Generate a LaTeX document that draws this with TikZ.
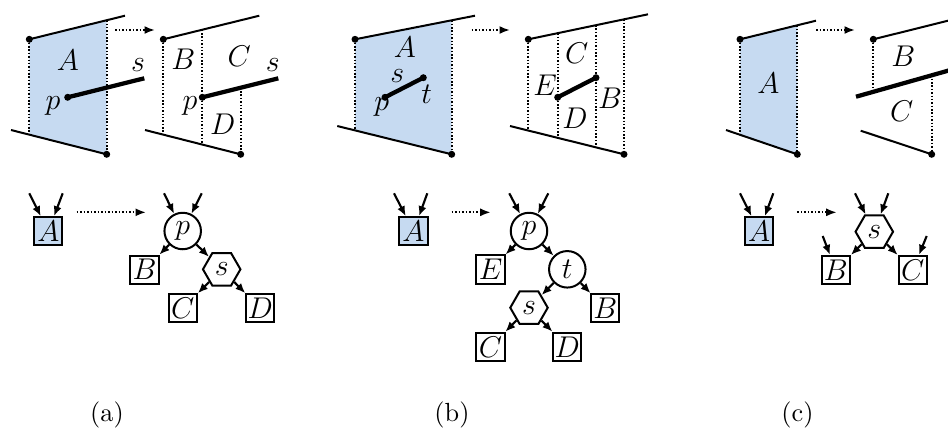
\documentclass[tikz,border=0pt]{standalone}
\usetikzlibrary{arrows.meta,shapes.geometric}
\definecolor{regblue}{RGB}{198,218,241}
\begin{document}
\begin{tikzpicture}[x=0.4pt,y=-0.4pt,
  font=\fontsize{12}{14}\selectfont,
  seg/.style={line width=0.8pt},
  thickseg/.style={line width=1.7pt},
  vdot/.style={line width=0.75pt, dash pattern=on 0.6pt off 0.75pt},
  dotarrow/.style={line width=0.75pt, dash pattern=on 0.6pt off 0.8pt, -{Latex[length=4.2pt,width=3.2pt]}},
  arr/.style={line width=0.85pt, -{Latex[length=4pt,width=3.3pt]}},
  box/.style={draw, line width=0.8pt, minimum size=11.3pt, inner sep=0pt},
  circ/.style={circle, draw, line width=0.8pt, minimum size=14.6pt, inner sep=0pt},
  hex/.style={regular polygon, regular polygon sides=6, draw, line width=0.8pt, minimum size=15pt, inner sep=0pt},
  lbl/.style={inner sep=0pt},
  captxt/.style={inner sep=0pt, font=\fontsize{10.5}{12}\selectfont}
]
\useasboundingbox (0,0) rectangle (948,429);
\clip (0,0) rectangle (948,429);

% ---------------- panel (a), top ----------------
\fill[regblue] (29.3,39.3) -- (106.7,20.2) -- (106.7,154.3) -- (29.3,134.6) -- cycle;
\draw[vdot] (29.3,39.3) -- (29.3,134.6);
\draw[vdot] (106.7,20.2) -- (106.7,154.3);
\draw[seg] (29.3,39.3) -- (125,15.7);
\draw[seg] (11,130) -- (106.7,154.3);
\draw[thickseg] (67.7,97.3) -- (144.3,78.3);
\fill (29.3,39.3) circle (1.4pt) (106.7,154.3) circle (1.4pt) (67.7,97.3) circle (1.4pt);
\node[lbl] (a1A) at (68,60) {$A$};
\node[lbl] (a1p) at (53,106) {$p$};
\node[lbl] (a1s) at (138,65) {$s$};

\coordinate (a1from) at (115,30);
\coordinate (a1to) at (155,30);
\draw[dotarrow] (a1from) -- (a1to);

\draw[vdot] (163.3,39.3) -- (163.3,134.6);
\draw[vdot] (202.3,29.7) -- (202.3,144.6);
\draw[vdot] (240.7,87.7) -- (240.7,154.3);
\draw[seg] (163.3,39.3) -- (259.3,15.7);
\draw[seg] (145,130) -- (240.7,154.3);
\draw[thickseg] (202.3,97.3) -- (278.3,78.3);
\fill (163.3,39.3) circle (1.4pt) (240.7,154.3) circle (1.4pt) (202.3,97.3) circle (1.4pt);
\node[lbl] (a2B) at (183.3,59.3) {$B$};
\node[lbl] (a2C) at (239.3,56.7) {$C$};
\node[lbl] (a2D) at (222.7,124) {$D$};
\node[lbl] (a2p) at (190,106) {$p$};
\node[lbl] (a2s) at (272.7,65) {$s$};

% ---------------- panel (b), top ----------------
\fill[regblue] (355,39.3) -- (451.7,20.3) -- (451.7,154.3) -- (355,130.4) -- cycle;
\draw[vdot] (355,39.3) -- (355,130.4);
\draw[vdot] (451.7,20.3) -- (451.7,154.3);
\draw[seg] (355,39.3) -- (475,15.7);
\draw[seg] (337.3,126) -- (451.7,154.3);
\draw[thickseg] (385,97.3) -- (423.3,77.7);
\fill (355,39.3) circle (1.4pt) (451.7,154.3) circle (1.4pt) (385,97.3) circle (1.4pt) (423.3,77.7) circle (1.4pt);
\node[lbl] (b1A) at (405,47.7) {$A$};
\node[lbl] (b1s) at (397.3,76) {$s$};
\node[lbl] (b1t) at (426.7,94.3) {$t$};
\node[lbl] (b1p) at (381.7,106.7) {$p$};

\coordinate (b1from) at (471.7,30);
\coordinate (b1to) at (510,30);
\draw[dotarrow] (b1from) -- (b1to);

\draw[vdot] (528.3,39.3) -- (528.3,130.5);
\draw[vdot] (557.7,33.2) -- (557.7,137.8);
\draw[vdot] (596,25.1) -- (596,147.2);
\draw[vdot] (624,19.3) -- (624,154.3);
\draw[seg] (528.3,39.3) -- (648,14.3);
\draw[seg] (510,126) -- (624,154.3);
\draw[thickseg] (557.7,97.3) -- (596,77.7);
\fill (528.3,39.3) circle (1.4pt) (624,154.3) circle (1.4pt) (557.7,97.3) circle (1.4pt) (596,77.7) circle (1.4pt);
\node[lbl] (b2C) at (576.7,53.3) {$C$};
\node[lbl] (b2E) at (545,85) {$E$};
\node[lbl] (b2D) at (575,118.3) {$D$};
\node[lbl] (b2B) at (610,98.3) {$B$};

% ---------------- panel (c), top ----------------
\fill[regblue] (740,39.3) -- (797.3,25.3) -- (797.3,154.3) -- (740,134.8) -- cycle;
\draw[vdot] (740,39.3) -- (740,134.8);
\draw[vdot] (797.3,25.3) -- (797.3,154.3);
\draw[seg] (740,39.3) -- (816,20.7);
\draw[seg] (726,130) -- (797.3,154.3);
\fill (740,39.3) circle (1.4pt) (797.3,154.3) circle (1.4pt);
\node[lbl] (c1A) at (768.3,83.3) {$A$};

\coordinate (c1from) at (816,30);
\coordinate (c1to) at (855,30);
\draw[dotarrow] (c1from) -- (c1to);

\draw[vdot] (873.3,39.3) -- (873.3,91.6);
\draw[vdot] (931.7,75.3) -- (931.7,154.3);
\draw[seg] (873.3,39.3) -- (960,17.7);
\draw[seg] (860.7,130.7) -- (931.7,154.3);
\draw[thickseg] (856,96.7) -- (960,67.3);
\fill (873.3,39.3) circle (1.4pt) (931.7,154.3) circle (1.4pt);
\node[lbl] (c2B) at (903.3,56) {$B$};
\node[lbl] (c2C) at (901.7,111.7) {$C$};
\node[lbl] (c2s) at (954,83) {$s$};

% ---------------- panel (a), tree ----------------
\node[box, fill=regblue] (taA) at (48.3,231.3) {$A$};
\coordinate (taA1) at (29.3,193.3);
\coordinate (taA2) at (62.7,193.3);
\draw[arr] (taA1) -- (taA);
\draw[arr] (taA2) -- (taA);
\coordinate (tafrom) at (76.7,212.3);
\coordinate (tato) at (146,212.3);
\draw[dotarrow] (tafrom) -- (tato);
\node[circ] (tap) at (182.7,231) {$p$};
\coordinate (tap1) at (164,193.3);
\coordinate (tap2) at (201.7,193.3);
\draw[arr] (tap1) -- (tap);
\draw[arr] (tap2) -- (tap);
\node[box] (taB) at (144.5,269.7) {$B$};
\node[hex] (tas) at (221.7,269.3) {$s$};
\node[box] (taC) at (182.8,308.3) {$C$};
\node[box] (taD) at (260.3,308.3) {$D$};
\draw[arr] (tap) -- (taB);
\draw[arr] (tap) -- (tas);
\draw[arr] (tas) -- (taC);
\draw[arr] (tas) -- (taD);

% ---------------- panel (b), tree ----------------
\node[box, fill=regblue] (tbA) at (413.5,231.3) {$A$};
\coordinate (tbA1) at (394,193.3);
\coordinate (tbA2) at (427.3,193.3);
\draw[arr] (tbA1) -- (tbA);
\draw[arr] (tbA2) -- (tbA);
\coordinate (tbfrom) at (451.7,212.3);
\coordinate (tbto) at (490.7,212.3);
\draw[dotarrow] (tbfrom) -- (tbto);
\node[circ] (tbp) at (529,231) {$p$};
\coordinate (tbp1) at (509.3,193.3);
\coordinate (tbp2) at (548.3,193.3);
\draw[arr] (tbp1) -- (tbp);
\draw[arr] (tbp2) -- (tbp);
\node[box] (tbE) at (490.5,269.5) {$E$};
\node[circ] (tbt) at (567.3,269.3) {$t$};
\node[hex] (tbs) at (529,307.7) {$s$};
\node[box] (tbB) at (605.3,308.3) {$B$};
\node[box] (tbC) at (490.5,346.8) {$C$};
\node[box] (tbD) at (567.2,346.8) {$D$};
\draw[arr] (tbp) -- (tbE);
\draw[arr] (tbp) -- (tbt);
\draw[arr] (tbt) -- (tbs);
\draw[arr] (tbt) -- (tbB);
\draw[arr] (tbs) -- (tbC);
\draw[arr] (tbs) -- (tbD);

% ---------------- panel (c), tree ----------------
\node[box, fill=regblue] (tcA) at (759.2,231.3) {$A$};
\coordinate (tcA1) at (740,193.3);
\coordinate (tcA2) at (773.3,193.3);
\draw[arr] (tcA1) -- (tcA);
\draw[arr] (tcA2) -- (tcA);
\coordinate (tcfrom) at (797.3,212.3);
\coordinate (tcto) at (836.7,212.3);
\draw[dotarrow] (tcfrom) -- (tcto);
\node[hex] (tcs) at (874.3,231.7) {$s$};
\coordinate (tcs1) at (855,193.3);
\coordinate (tcs2) at (888.3,193.3);
\draw[arr] (tcs1) -- (tcs);
\draw[arr] (tcs2) -- (tcs);
\node[box] (tcB) at (835.8,270) {$B$};
\node[box] (tcC) at (912.8,270) {$C$};
\coordinate (tcB1) at (822.7,236);
\coordinate (tcC1) at (926.7,236);
\draw[arr] (tcs) -- (tcB);
\draw[arr] (tcs) -- (tcC);
\draw[arr] (tcB1) -- (tcB);
\draw[arr] (tcC1) -- (tcC);

% ---------------- captions ----------------
\node[captxt] (capa) at (107,415) {(a)};
\node[captxt] (capb) at (452,415) {(b)};
\node[captxt] (capc) at (797.5,415) {(c)};
\end{tikzpicture}
\end{document}
